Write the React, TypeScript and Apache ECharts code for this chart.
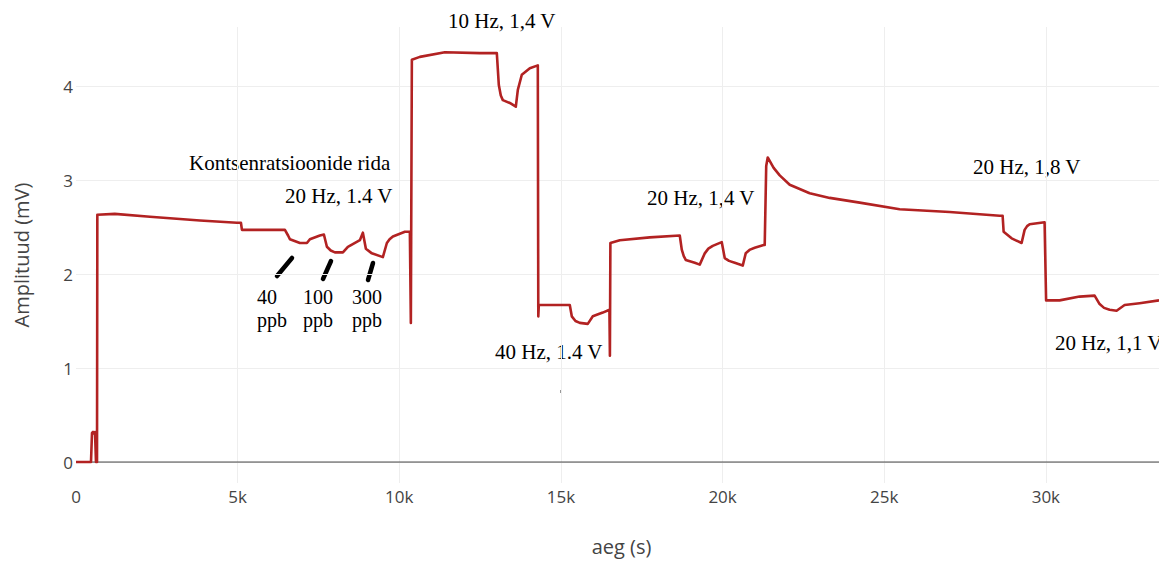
import React, { useEffect, useRef } from "react";
import * as echarts from "echarts";

// Time (s) and amplitude (mV)
const timeSec = [
  0, 464, 495, 526, 572, 588, 618, 650, 660, 1200, 2288, 3834, 4978, 5102, 5133,
  6462, 6560, 6617, 6926, 7143, 7235, 7544, 7668, 7761, 7880, 8008, 8256, 8410, 8781, 8874,
  8967, 9152, 9492, 9616, 9700, 9802, 10173, 10327, 10358, 10389, 10636, 11410, 12492,
  13017, 13079, 13140, 13203, 13419, 13605, 13667, 13790, 14038, 14285, 14300, 14316,
  15274, 15336, 15450, 15584, 15831, 15986, 16295, 16500, 16515, 16530, 16820, 17748,
  18676, 18738, 18800, 18861, 19139, 19294, 19449, 19560, 19696, 19974, 20067, 20200, 20376, 20624,
  20716, 20850, 20995, 21273, 21304, 21350, 21397, 21580, 21768, 22077, 22695, 23314, 24241,
  25478, 27024, 28570, 28663, 28694, 28941, 29250, 29343, 29420, 29498, 29961, 30008,
  30426, 31044, 31508, 31663, 31800, 31972, 32188, 32436, 32900, 33500,
];
const amplitudeMv = [
  0, 0, 0.31, 0.32, 0.3, 0.32, 0, 0, 2.63, 2.64, 2.61, 2.57, 2.545, 2.545, 2.47,
  2.47, 2.41, 2.37, 2.33, 2.33, 2.37, 2.41, 2.42, 2.29, 2.25, 2.23, 2.23, 2.29, 2.36, 2.44,
  2.27, 2.22, 2.18, 2.33, 2.37, 2.4, 2.45, 2.45, 1.48, 4.28, 4.31, 4.36, 4.35,
  4.35, 4.01, 3.9, 3.85, 3.82, 3.78, 3.96, 4.12, 4.19, 4.22, 1.55, 1.67,
  1.67, 1.55, 1.5, 1.48, 1.47, 1.55, 1.59, 1.62, 1.13, 2.33, 2.36, 2.39,
  2.41, 2.26, 2.19, 2.15, 2.12, 2.1, 2.22, 2.27, 2.3, 2.34, 2.17, 2.14, 2.12, 2.09,
  2.22, 2.26, 2.28, 2.31, 2.31, 3.15, 3.24, 3.13, 3.05, 2.95, 2.86, 2.81, 2.76,
  2.69, 2.66, 2.62, 2.62, 2.45, 2.38, 2.33, 2.47, 2.51, 2.53, 2.55, 1.72,
  1.72, 1.76, 1.77, 1.68, 1.64, 1.62, 1.61, 1.67, 1.69, 1.72,
];

const xMin = 0;
const xMax = 33500;
const yMin = -0.223;
const yMax = 4.628;

const annotations = [
  { text: "10 Hz, 1,4 V", x: 448, y: 21 },
  { text: "Kontsenratsioonide rida", x: 189, y: 163 },
  { text: "20 Hz, 1.4 V", x: 285, y: 196 },
  { text: "40 Hz, 1.4 V", x: 495, y: 352 },
  { text: "20 Hz, 1,4 V", x: 647, y: 198 },
  { text: "20 Hz, 1,8 V", x: 973, y: 167 },
  { text: "20 Hz, 1,1 V", x: 1055, y: 343 },
];
const concentrationLabels = [
  { text: "40\nppb", x: 257, y: 297 },
  { text: "100\nppb", x: 303, y: 297 },
  { text: "300\nppb", x: 352, y: 297 },
];
const markers = [
  [277, 276, 292, 258],
  [323, 279, 331, 261],
  [368, 280, 373, 263],
];

export default function App() {
  const ref = useRef<HTMLDivElement>(null);
  useEffect(() => {
    document.body.style.margin = "0";
    if (!ref.current) return;
    const chart = echarts.init(ref.current, null, { renderer: "svg" });
    const data = timeSec.map((t, i) => [t, amplitudeMv[i]]);
    const serif = "'Liberation Serif', 'Times New Roman', serif";
    const graphics: any[] = [];
    annotations.forEach((a) =>
      graphics.push({
        type: "text",
        x: a.x,
        y: a.y,
        silent: true,
        style: {
          text: a.text,
          fill: "#000",
          font: `21px ${serif}`,
          textAlign: "left",
          textVerticalAlign: "middle",
        },
      })
    );
    concentrationLabels.forEach((a) =>
      graphics.push({
        type: "text",
        x: a.x,
        y: a.y - 11.5,
        silent: true,
        style: {
          text: a.text,
          fill: "#000",
          fontFamily: serif,
          fontSize: 20,
          lineHeight: 23,
          textAlign: "left",
          textVerticalAlign: "top",
        },
      })
    );
    markers.forEach((m) =>
      graphics.push({
        type: "line",
        silent: true,
        shape: { x1: m[0], y1: m[1], x2: m[2], y2: m[3] },
        style: { stroke: "#000", lineWidth: 4.5, lineCap: "round" },
      })
    );
    graphics.push({
      type: "rect",
      silent: true,
      shape: { x: 560.5, y: 390, width: 1.2, height: 3 },
      style: { fill: "#333" },
    });

    const isTick = (v: number, step: number) => Math.abs(v / step - Math.round(v / step)) < 1e-6;

    chart.setOption({
      animation: false,
      backgroundColor: "#fff",
      grid: { left: 76, right: 0, top: 27, bottom: 79, containLabel: false },
      xAxis: {
        type: "value",
        min: xMin,
        max: xMax,
        interval: 5000,
        name: "aeg (s)",
        nameLocation: "middle",
        nameGap: 53,
        nameTextStyle: { color: "#444", fontSize: 20, fontFamily: "'Open Sans', sans-serif", padding: [0, 0, 0, 8] },
        axisLine: { show: false },
        axisTick: { show: false },
        axisLabel: {
          color: "#444",
          fontSize: 17,
          fontFamily: "'Open Sans', sans-serif",
          margin: 5,
          showMaxLabel: false,
          formatter: (v: number) => (isTick(v, 5000) ? (v === 0 ? "0" : v / 1000 + "k") : ""),
        },
        splitLine: { show: true, showMaxLine: false, showMinLine: false, lineStyle: { color: "#eee", width: 1 } },
      },
      yAxis: {
        type: "value",
        min: yMin,
        max: yMax,
        name: "Amplituud (mV)",
        nameLocation: "middle",
        nameGap: 45,
        nameTextStyle: { color: "#444", fontSize: 20, fontFamily: "'Open Sans', sans-serif" },
        axisLine: { show: false },
        axisTick: { show: false },
        axisLabel: {
          color: "#444",
          fontSize: 17,
          fontFamily: "'Open Sans', sans-serif",
          margin: 3,
          formatter: (v: number) => (isTick(v, 1) ? String(Math.round(v)) : ""),
        },
        splitLine: { show: true, showMinLine: false, showMaxLine: false, lineStyle: { color: "#eee", width: 1 } },
      },
      series: [
        {
          name: "zeroline",
          type: "line",
          data: [
            [xMin, 0],
            [xMax, 0],
          ],
          symbol: "none",
          silent: true,
          z: 1,
          lineStyle: { color: "#444", width: 1 },
        },
        {
          name: "Amplituud",
          type: "line",
          data,
          symbol: "none",
          z: 3,
          lineStyle: { color: "#b22222", width: 2.6, join: "round" },
        },
      ],
      graphic: graphics,
    });
    return () => chart.dispose();
  }, []);
  return (
    <div
      ref={ref}
      style={{ position: "absolute", left: 0, top: 0, width: 1159, height: 562, background: "#fff" }}
    />
  );
}
